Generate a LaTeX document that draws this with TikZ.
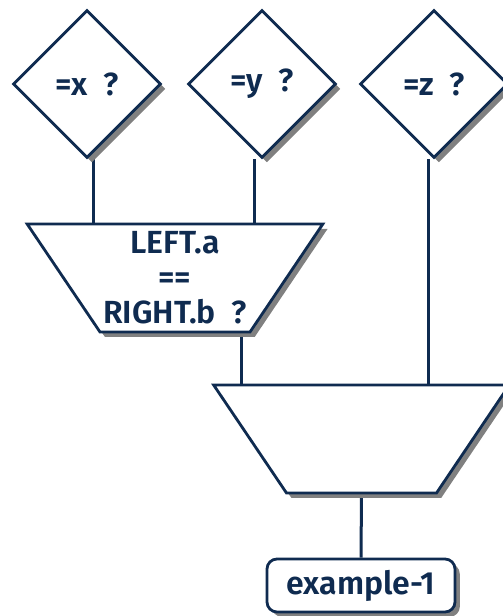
\documentclass[tikz,border=0pt]{standalone}
\usepackage{fontspec}
\setmainfont{Fira Sans}[BoldFont={Fira Sans SemiBold}]
\usetikzlibrary{positioning, shapes.geometric, shadows, backgrounds}
\definecolor{navy}{HTML}{0F2B50}

\begin{document}
\begin{tikzpicture}[x=0.5pt, y=-0.5pt, line width=1.4pt, color=navy,
    font=\fontsize{16}{17.5}\selectfont\bfseries,
    boxshadow/.style={drop shadow={shadow xshift=2.4pt, shadow yshift=-2.4pt, fill=gray, opacity=1}},
    testbox/.style={diamond, draw, fill=white, boxshadow, aspect=1, minimum width=74pt, minimum height=74pt, inner sep=0pt},
    joinbox/.style={trapezium, draw, fill=white, boxshadow, shape border rotate=180,
        trapezium left angle=56, trapezium right angle=56, inner xsep=37.5pt, inner ysep=27pt},
    resultbox/.style={rectangle, rounded corners=5pt, draw, fill=white, boxshadow, minimum width=94pt, minimum height=26.5pt},
    wire/.style={draw=navy, line width=1.5pt}]
    \useasboundingbox (0,0) rectangle (503,616);
    % tests on the single columns
    \node[testbox] (Dx) at (87,84) {=x~~?};
    \node[testbox] (Dy) at (262,84) {=y~~?};
    \node[testbox] (Dz) at (434,84) {=z~~?};
    % join of left and right
    \node[joinbox] (Jab) at (175,278) {};
    \node[align=center] (Jabtext) at (Jab) {LEFT.a\\==\\RIGHT.b~~?};
    \node[joinbox] (Jall) at (361.5,439) {};
    \node[resultbox] (Out) at (361,585.5) {example-1};
    \begin{pgfonlayer}{background}
        \draw[wire] ([xshift=3pt]Dx.south) -- ([xshift=3pt]Dx.south |- Jab.north);
        \draw[wire] ([xshift=-4pt]Dy.south) -- ([xshift=-4pt]Dy.south |- Jab.north);
        \draw[wire] ([xshift=-3pt]Dz.south) -- ([xshift=-3pt]Dz.south |- Jall.north);
        \draw[wire] ([xshift=33pt]Jab.south) -- ([xshift=33pt]Jab.south |- Jall.north);
        \draw[wire] (Jall.south) -- (Out.north);
    \end{pgfonlayer}
\end{tikzpicture}
\end{document}
